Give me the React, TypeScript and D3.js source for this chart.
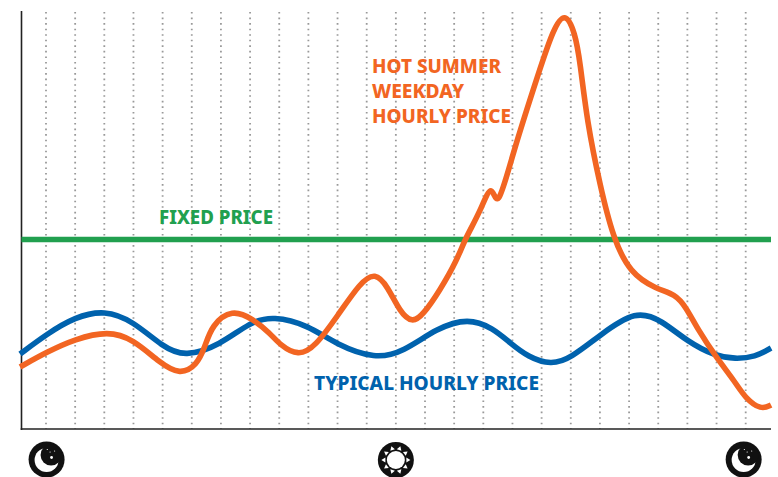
import * as d3 from 'd3';

// hours of the day, -0.89 is the left edge of the plot
const blueHours = [-0.89, 0.03, 0.99, 2.02, 2.98, 4.01, 4.77, 5.97, 7.0, 7.79, 8.99, 9.98, 11.29, 12.25, 13.41, 14.48, 15.33, 15.92, 16.54, 17.32, 18.01, 19.0, 20.24, 21.1, 22.02, 22.95, 23.64, 24.32, 24.87];
const bluePrices = [7.5, 9.5, 11.2, 11.9, 10.8, 8.2, 7.2, 8.4, 10.7, 11.3, 10.4, 8.4, 7.0, 7.7, 10.1, 11.1, 10.1, 8.6, 7.2, 6.4, 7.1, 9.4, 11.9, 10.9, 8.7, 7.3, 7.0, 7.2, 8.1];

const orangeHours = [-0.89, 0.03, 0.99, 2.13, 2.98, 3.91, 4.6, 5.18, 5.45, 5.69, 6.38, 7.1, 7.68, 8.03, 8.65, 9.23, 10.02, 10.77, 11.29, 11.73, 12.14, 12.56, 12.93, 13.52, 14.1, 14.37, 14.89, 15.3, 15.47, 15.99, 16.95, 17.39, 17.8, 18.15, 18.32, 18.56, 19.0, 19.45, 20.03, 20.93, 21.58, 21.95, 22.37, 22.98, 23.64, 23.98, 24.53, 24.87];
const orangePrices = [6.2, 7.7, 9.0, 9.8, 9.0, 6.6, 5.4, 6.4, 8.2, 10.4, 12.0, 11.0, 9.6, 8.4, 7.3, 8.2, 11.4, 14.6, 15.7, 14.2, 11.7, 10.6, 11.4, 13.9, 16.9, 19.0, 21.7, 24.9, 21.6, 27.4, 36.1, 39.9, 41.8, 39.6, 36.7, 30.7, 24.4, 19.1, 15.6, 14.0, 13.5, 12.2, 9.9, 7.2, 4.7, 3.1, 1.9, 2.4];

const fixedPrice = 18.95;
const gridHours = d3.range(0, 25);
const moonHours = [0.02, 23.93];
const sunHours = [12];
const rayAngles = d3.range(0, 360, 36);
const starSpots = [[5, -2, 1.4], [8, -8.5, 0.6], [3.5, -7.5, 0.6], [0.7, -10, 0.6]];
const hotLabel = ['HOT SUMMER', 'WEEKDAY', 'HOURLY PRICE'];
const hotWidths = [129, 92, 139];

const ORANGE = '#f26522';
const BLUE = '#0062ad';
const GREEN = '#21a04f';
const FONT = '"Noto Sans", "Open Sans", sans-serif';

const x = d3.scaleLinear().domain([0, 24]).range([46, 745.7]);
const y = d3.scaleLinear().domain([0, 41.7]).range([429, 12]);
const plotLeft = 21.5;
const plotRight = 771;

function linePath(hours: number[], prices: number[]) {
  return d3
    .line<number>()
    .x((d) => x(d))
    .y((_, i) => y(prices[i]))
    .curve(d3.curveBasis)(hours) as string;
}

function Moon({ cx }: { cx: number }) {
  const cy = 459.5;
  return (
    <g transform={`translate(${cx},${cy})`}>
      <circle r={18} fill="#111" />
      <circle cx={0} cy={0.5} r={12} fill="#fff" />
      <circle cx={4.5} cy={-4.5} r={10.5} fill="#111" />
      {starSpots.map(([sx, sy, r], i) => (
        <circle key={i} cx={sx} cy={sy} r={r} fill="#fff" />
      ))}
    </g>
  );
}

function Sun({ cx }: { cx: number }) {
  const cy = 460;
  return (
    <g transform={`translate(${cx},${cy})`}>
      <circle r={18} fill="#111" />
      <circle r={9} fill="#fff" />
      {rayAngles.map((a) => (
        <path key={a} d="M-2.4,-10.5 L2.4,-10.5 L0,-14.5 Z" fill="#fff" transform={`rotate(${a + 18})`} />
      ))}
    </g>
  );
}

export default function App() {
  return (
    <svg width={778} height={477} style={{ position: 'absolute', left: 0, top: 0, display: 'block', background: '#fff' }}>
      {gridHours.map((h) => (
        <line key={h} x1={x(h)} x2={x(h)} y1={y(41.7)} y2={y(0)} stroke="#999" strokeWidth={1.8} strokeDasharray="1.6 3.95" />
      ))}
      <line x1={plotLeft} x2={plotLeft} y1={11} y2={430} stroke="#222" strokeWidth={1.6} />
      <line x1={plotLeft - 0.8} x2={plotRight} y1={429} y2={429} stroke="#222" strokeWidth={1.6} />

      <line x1={plotLeft} x2={plotRight} y1={y(fixedPrice)} y2={y(fixedPrice)} stroke={GREEN} strokeWidth={5.5} />
      <path d={linePath(blueHours, bluePrices)} fill="none" stroke={BLUE} strokeWidth={5.6} />
      <path d={linePath(orangeHours, orangePrices)} fill="none" stroke={ORANGE} strokeWidth={5.6} strokeLinejoin="round" />

      <g fontFamily={FONT} fontWeight={800} fontSize={19.5}>
        {hotLabel.map((t, i) => (
          <text key={t} x={372} y={72.5 + i * 25} fill={ORANGE} textLength={hotWidths[i]} lengthAdjust="spacingAndGlyphs">{t}</text>
        ))}
        <text x={159} y={224} fill={GREEN} textLength={114} lengthAdjust="spacingAndGlyphs">FIXED PRICE</text>
        <text x={314} y={390} fill={BLUE} textLength={225} lengthAdjust="spacingAndGlyphs">TYPICAL HOURLY PRICE</text>
      </g>

      {moonHours.map((h) => <Moon key={h} cx={x(h)} />)}
      {sunHours.map((h) => <Sun key={h} cx={x(h)} />)}
    </svg>
  );
}
